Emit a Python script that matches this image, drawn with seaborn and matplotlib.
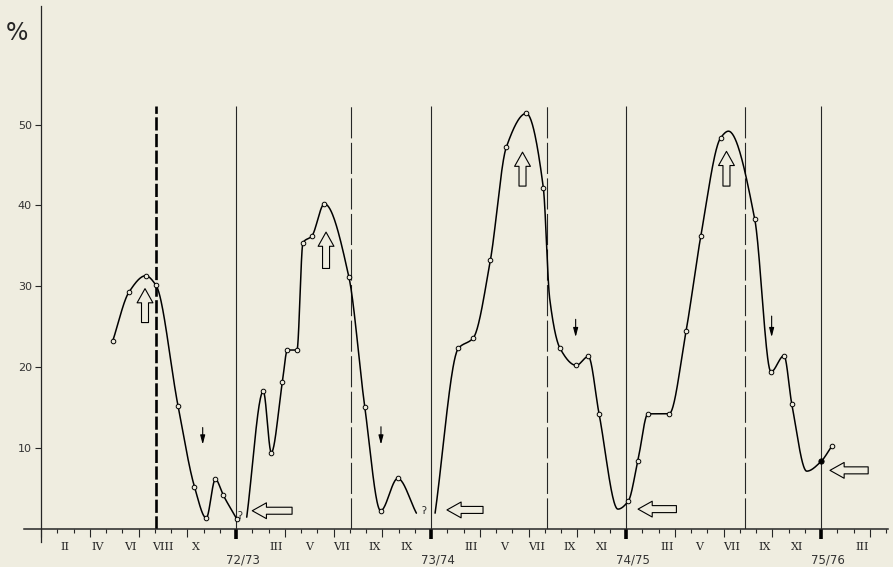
import numpy as np
import pandas as pd
import matplotlib
matplotlib.use("Agg")
import matplotlib.pyplot as plt
import seaborn as sns

# time axis in months counted from 1 Jan 1972 (12 = 72/73 boundary, etc.)
# each curve segment: knot times, values (%), marker kind ("o" open, "f" filled, "-" none)
seg1_t = [4.41, 5.42, 6.44, 7.08, 8.43, 9.44, 10.17, 10.73, 11.22, 12.04]
seg1_v = [23.2, 29.3, 31.3, 30.1, 15.2, 5.2, 1.3, 6.1, 4.1, 1.2]
seg1_k = ["o", "o", "o", "o", "o", "o", "o", "o", "o", "o"]

seg2_t = [12.66, 13.68, 14.17, 14.85, 15.16, 15.75, 16.12, 16.66, 17.44, 18.95, 19.92, 20.90, 21.95, 23.10]
seg2_v = [1.4, 17.0, 9.4, 18.1, 22.1, 22.1, 35.4, 36.2, 40.2, 31.1, 15.1, 2.2, 6.2, 1.9]
seg2_k = ["-", "o", "o", "o", "o", "o", "o", "o", "o", "o", "o", "o", "o", "-"]

seg3_t = [24.25, 25.68, 26.60, 27.65, 28.63, 29.86, 30.91, 31.30, 31.94, 32.94, 33.68, 34.34, 35.50,
          36.14, 36.72, 37.35, 38.65, 39.69, 40.60, 41.83, 42.30, 43.92, 44.92, 45.72, 46.20, 47.12,
          48.00, 48.66]
seg3_v = [1.9, 22.3, 23.6, 33.2, 47.2, 51.4, 42.2, 28.5, 22.3, 20.2, 21.3, 14.2, 2.4,
          3.4, 8.3, 14.2, 14.2, 24.4, 36.2, 48.4, 49.2, 38.3, 19.4, 21.4, 15.4, 7.1,
          8.3, 10.2]
seg3_k = ["-", "o", "o", "o", "o", "o", "o", "-", "o", "o", "o", "o", "-",
          "o", "o", "o", "o", "o", "o", "o", "-", "o", "o", "o", "o", "-",
          "f", "o"]

# season markers
dashed_t = [7.08, 19.10, 31.14, 43.30]
solid_t = [12, 24, 36, 48]

y_ticks = [10, 20, 30, 40, 50]
month_t = [1.5, 3.5, 5.5, 7.5, 9.5, 14.5, 16.5, 18.5, 20.5, 22.5, 26.5, 28.5, 30.5, 32.5, 34.5,
           38.5, 40.5, 42.5, 44.5, 46.5, 50.5]
month_labels = ["II", "IV", "VI", "VIII", "X", "III", "V", "VII", "IX", "IX", "III", "V", "VII",
                "IX", "XI", "III", "V", "VII", "IX", "XI", "III"]
year_t = [12, 24, 36, 48]
year_labels = ["72/73", "73/74", "74/75", "75/76"]

# annotation arrows
up_t = [6.40, 17.54, 29.63, 42.18]
up_v0 = [25.5, 32.2, 42.4, 42.4]
up_v1 = [29.7, 36.7, 46.6, 46.7]
left_t0 = [15.45, 27.20, 39.10, 50.90]
left_t1 = [13.00, 24.98, 36.74, 48.55]
left_v = [2.2, 2.3, 2.4, 7.2]
down_t = [9.95, 20.92, 32.90, 44.96]
down_v0 = [12.5, 12.6, 25.9, 26.3]
down_v1 = [10.4, 10.4, 23.7, 23.7]
query_t = [12.25, 23.57]
query_v = [1.55, 2.2]

BG = "#efede0"
INK = "#262626"


def smooth(t, v, n=40):
    # monotone cubic (Fritsch-Carlson) through the knots, like the hand-drawn curve
    x = np.asarray(t, float)
    y = np.asarray(v, float)
    h = np.diff(x)
    d = np.diff(y) / h
    m = np.zeros_like(y)
    m[0], m[-1] = d[0], d[-1]
    for k in range(1, len(x) - 1):
        if d[k - 1] * d[k] > 0:
            w1 = 2 * h[k] + h[k - 1]
            w2 = h[k] + 2 * h[k - 1]
            m[k] = (w1 + w2) / (w1 / d[k - 1] + w2 / d[k])
    xs, ys = [], []
    s = np.linspace(0, 1, n)
    for k in range(len(h)):
        h00 = 2 * s**3 - 3 * s**2 + 1
        h10 = s**3 - 2 * s**2 + s
        h01 = -2 * s**3 + 3 * s**2
        h11 = s**3 - s**2
        yy = h00 * y[k] + h10 * h[k] * m[k] + h01 * y[k + 1] + h11 * h[k] * m[k + 1]
        xx = x[k] + s * h[k]
        xs.append(xx if k == 0 else xx[1:])
        ys.append(yy if k == 0 else yy[1:])
    return np.concatenate(xs), np.concatenate(ys)


segments = [(seg1_t, seg1_v, seg1_k), (seg2_t, seg2_v, seg2_k), (seg3_t, seg3_v, seg3_k)]
curve_rows, point_rows = [], []
for i, (st, sv, sk) in enumerate(segments):
    ct, cv = smooth(st, sv)
    curve_rows.append(pd.DataFrame({"t": ct, "v": cv, "seg": i}))
    point_rows.append(pd.DataFrame({"t": st, "v": sv, "kind": sk}))
curve = pd.concat(curve_rows, ignore_index=True)
points = pd.concat(point_rows, ignore_index=True)

sns.set_theme(style="ticks", rc={"axes.facecolor": BG, "figure.facecolor": BG,
                                 "axes.edgecolor": INK, "xtick.color": INK, "ytick.color": INK})
plt.rcParams["font.family"] = ["DejaVu Sans"]

fig = plt.figure(figsize=(8.93, 5.67), dpi=100)
ax = fig.add_axes([24 / 893, (567 - 528.5) / 567, (888 - 24) / 893, (528.5 - 6) / 567])

# season lines
ax.vlines(solid_t, 0, 52.3, colors=INK, lw=0.8)
ax.vlines(dashed_t[:1], 0, 52.3, colors="black", lw=1.9, linestyles=[(0, (5, 1.3))])
ax.vlines(dashed_t[1:], 0, 52.3, colors=INK, lw=0.8, linestyles=[(0, (28, 4))])

sns.lineplot(data=curve, x="t", y="v", units="seg", estimator=None, sort=False,
             color="black", linewidth=1.1, ax=ax, legend=False)
sns.scatterplot(data=points[points["kind"] == "o"], x="t", y="v", marker="o", s=11,
                color=BG, edgecolor="black", linewidth=0.7, ax=ax, zorder=5, legend=False)
sns.scatterplot(data=points[points["kind"] == "f"], x="t", y="v", marker="o", s=14,
                color="black", edgecolor="black", linewidth=0.7, ax=ax, zorder=5, legend=False)

# open block arrows
block = dict(arrowstyle="simple,head_length=0.85,head_width=0.95,tail_width=0.42",
             fc=BG, ec="black", lw=0.8, shrinkA=0, shrinkB=0)
for t, v0, v1 in zip(up_t, up_v0, up_v1):
    ax.annotate("", xy=(t, v1), xytext=(t, v0), arrowprops=block)
for t0, t1, v in zip(left_t0, left_t1, left_v):
    ax.annotate("", xy=(t1, v), xytext=(t0, v), arrowprops=block)
small = dict(arrowstyle="-|>,head_length=0.45,head_width=0.12", fc="black", ec="black",
             lw=0.8, shrinkA=0, shrinkB=0)
for t, v0, v1 in zip(down_t, down_v0, down_v1):
    ax.annotate("", xy=(t, v1), xytext=(t, v0), arrowprops=small)
for t, v in zip(query_t, query_v):
    ax.text(t, v, "ʔ", fontsize=7, ha="center", va="center", color=INK)

# axes
ax.set_xlim(-1.046, 52.12)
ax.set_ylim(0, 64.7)
ax.set_xlabel("")
ax.set_ylabel("")
for side in ["top", "right"]:
    ax.spines[side].set_visible(False)
ax.spines["left"].set_position(("data", 0))
ax.spines["left"].set_bounds(-1.7, 64.7)
ax.spines["left"].set_linewidth(0.9)
ax.spines["bottom"].set_linewidth(1.1)

ax.set_yticks(y_ticks)
ax.set_yticklabels([str(y) for y in y_ticks])
ax.tick_params(axis="y", direction="out", length=4.5, width=0.8, labelsize=8, pad=2,
               labelcolor="#333333")
ax.set_xticks(np.arange(0, 53, 3))
ax.set_xticks(np.arange(0, 53, 1), minor=True)
ax.set_xticklabels([])
ax.tick_params(axis="x", which="major", direction="out", length=6, width=0.8)
ax.tick_params(axis="x", which="minor", direction="out", length=3, width=0.8)

xt = ax.get_xaxis_transform()
ax.vlines(year_t, -0.021, 0, colors="black", lw=2.6, transform=xt, clip_on=False)
for t, lab in zip(month_t, month_labels):
    ax.text(t, -0.035, lab, transform=xt, ha="center", va="center", fontsize=8,
            family="DejaVu Serif", color=INK)
for t, lab in zip(year_t, year_labels):
    ax.text(t + 0.4, -0.06, lab, transform=xt, ha="center", va="center", fontsize=8.5,
            color="#333333")

fig.text(17 / 893, 1 - 33 / 567, "%", ha="center", va="center", fontsize=17, color=INK)

fig.savefig("out.png", dpi=100, facecolor=BG)
